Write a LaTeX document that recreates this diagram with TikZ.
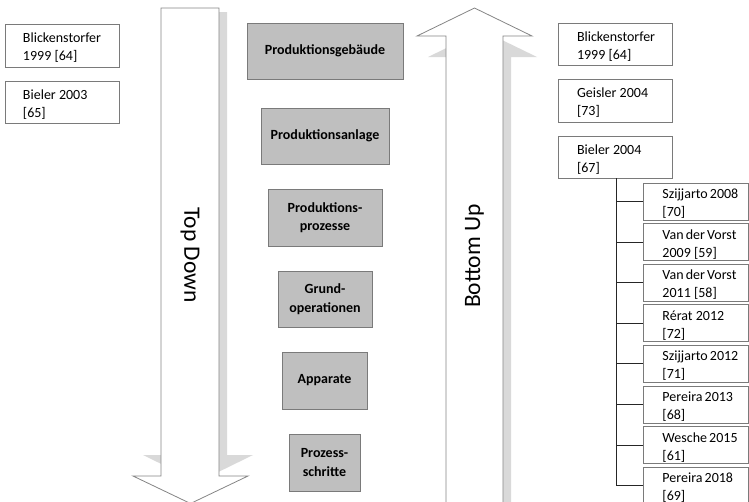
\documentclass[tikz,border=0pt]{standalone}
\usepackage{fontspec}
\setmainfont{Carlito}
\definecolor{edgegray}{HTML}{7A7A7A}
\definecolor{fillgray}{HTML}{BFBFBF}
\definecolor{shadowgray}{HTML}{D9D9D9}
\definecolor{arrowline}{HTML}{858585}
\begin{document}
\begin{tikzpicture}[x=1pt,y=-1pt,
  refbox/.style={rectangle, draw=edgegray, line width=0.9pt, fill=white,
    align=flush left, inner ysep=0pt, inner xsep=18pt, text depth=15.5pt,
    font=\fontsize{14}{18}\selectfont},
  stage/.style={rectangle, draw=edgegray, line width=0.9pt, fill=fillgray,
    align=center, inner sep=0pt, font=\bfseries\fontsize{14}{18.5}\selectfont},
  bigarrow/.style={draw=arrowline, line width=0.8pt, fill=white, line join=miter},
  arrowshadow/.style={fill=shadowgray, draw=none},
  arrowlabel/.style={font=\fontsize{23.5}{28}\selectfont, inner sep=0pt},
  treeline/.style={draw=black!85, line width=0.9pt}]
\useasboundingbox (0,0) rectangle (749,501);
\clip (0,0) rectangle (749,501);

% Top-down arrow with its shadow
\fill[arrowshadow] (169,12) -- (227,12) -- (227,455) -- (253,455) -- (198,482)
  -- (143,455) -- (169,455) -- cycle;
\draw[bigarrow] (161,8) -- (219,8) -- (219,476) -- (248,476) -- (190.5,503.5)
  -- (133,476) -- (161,476) -- cycle;
\node[arrowlabel, rotate=-90] (topdown) at (190,255) {Top Down};

% Bottom-up arrow with its shadow
\fill[arrowshadow] (454,515) -- (454,57) -- (428,57) -- (482.5,30.5) -- (537,57)
  -- (511,57) -- (511,515) -- cycle;
\draw[bigarrow] (446,515) -- (446,36) -- (417,36) -- (474.5,8) -- (532,36)
  -- (503,36) -- (503,515) -- cycle;
\node[arrowlabel, rotate=90] (bottomup) at (474.5,256) {Bottom Up};

% Left column: top-down references
\node[refbox, text width=78pt, minimum height=43pt] (lb1) at (62,45.5)
  {Blickenstorfer\\1999~[64]};
\node[refbox, text width=78pt, minimum height=42pt] (lb2) at (62,102)
  {Bieler~2003\\{[65]}};

% Middle column: hierarchy levels
\node[stage, minimum width=156pt, minimum height=56pt] (g1) at (325,51) {Produktionsgebäude};
\node[stage, minimum width=128pt, minimum height=56pt] (g2) at (325,136) {Produktionsanlage};
\node[stage, minimum width=114pt, minimum height=57pt] (g3) at (325,217.5) {Produktions-\\prozesse};
\node[stage, minimum width=94pt, minimum height=56pt] (g4) at (325,299) {Grund-\\operationen};
\node[stage, minimum width=85pt, minimum height=57pt] (g5) at (324.5,380.5) {Apparate};
\node[stage, minimum width=71pt, minimum height=57pt] (g6) at (324.5,462.5) {Prozess-\\schritte};

% Right column: bottom-up references
\node[refbox, inner xsep=19pt, text width=76pt, minimum height=42pt] (r1) at (615,44)
  {Blickenstorfer\\1999~[64]};
\node[refbox, inner xsep=19pt, text width=76pt, minimum height=43pt] (r2) at (615,100.5)
  {Geisler~2004\\{[73]}};
\node[refbox, inner xsep=19pt, text width=76pt, minimum height=42pt] (r3) at (615,157)
  {Bieler~2004\\{[67]}};

\tikzset{subbox/.style={refbox, inner xsep=19pt, text width=67pt,
  minimum height=37pt, anchor=west}}
\node[subbox] (s1) at (643,201.5) {Szijjarto~2008\\{[70]}};
\node[subbox] (s2) at (643,242.1) {Van~der~Vorst\\2009~[59]};
\node[subbox] (s3) at (643,282.7) {Van~der~Vorst\\2011~[58]};
\node[subbox] (s4) at (643,323.3) {Rérat~2012\\{[72]}};
\node[subbox] (s5) at (643,363.9) {Szijjarto~2012\\{[71]}};
\node[subbox] (s6) at (643,404.5) {Pereira~2013\\{[68]}};
\node[subbox] (s7) at (643,445.1) {Wesche~2015\\{[61]}};
\node[subbox] (s8) at (643,485.7) {Pereira~2018\\{[69]}};

% Tree below Bieler 2004
\coordinate (trunk) at (616,178);
\draw[treeline] (trunk) |- (s8.west);
\foreach \i in {1,...,7}
  \draw[treeline] (trunk |- s\i.west) -- (s\i.west);
\end{tikzpicture}
\end{document}
